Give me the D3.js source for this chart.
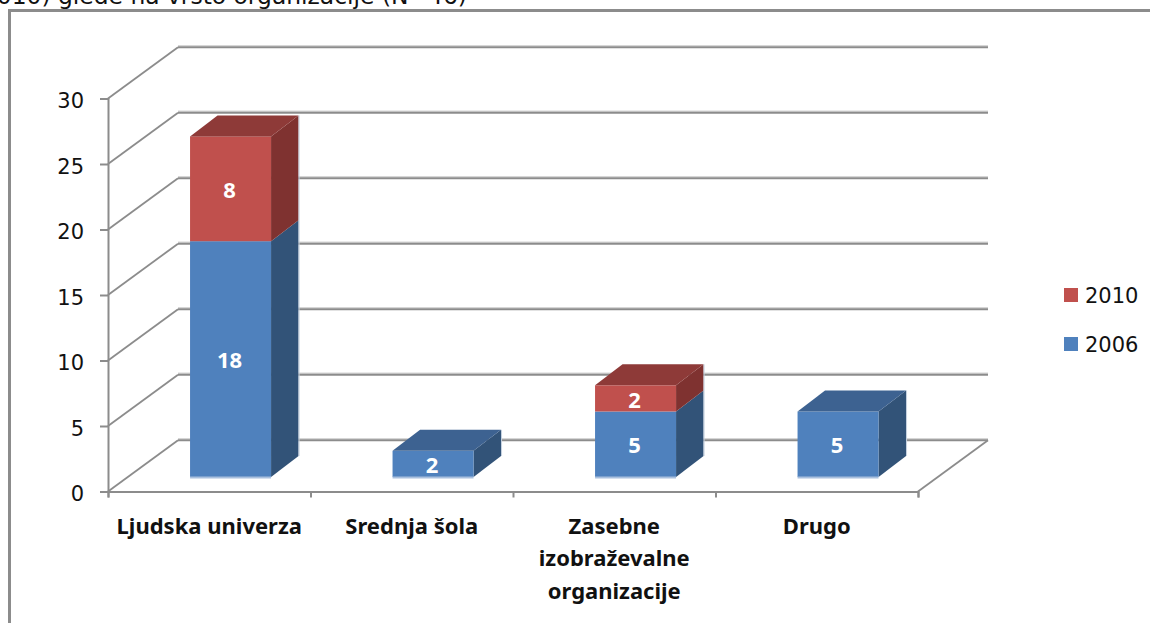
<!DOCTYPE html>
<html><head><meta charset="utf-8">
<script src="https://cdnjs.cloudflare.com/ajax/libs/d3/7.8.5/d3.min.js"></script>
<style>html,body{margin:0;padding:0;background:#fff;overflow:hidden}svg{display:block}</style>
</head><body><div id="c"></div>
<script>
const categories = ["Ljudska univerza","Srednja šola","Zasebne|izobraževalne|organizacije","Drugo"];
const series2006 = [18,2,5,5];
const series2010 = [8,0,2,0];
const seriesNames = ["2006","2010"];
const yTicks = [0,5,10,15,20,25,30];
const titleText = "2010) glede na vrsto organizacije (N=46)";

const W=1150,H=623;
const svg=d3.select("#c").append("svg").attr("width",W).attr("height",H);
const GRAY="#8c8c8c", FONT="'DejaVu Sans',sans-serif", BOLD="'Noto Sans',sans-serif";
const x=d3.scaleBand().domain(d3.range(categories.length)).range([108,918]).paddingInner(.6).paddingOuter(.3);
const y=d3.scaleLinear().domain([0,30]).range([491.5,98.5]);
const depthX=70, depthY=-51.3, barDX=21.3, barDY=-14.5, barDepthX=27.5, barDepthY=-21;

// title and frame
svg.append("text").attr("x",467).attr("y",4).attr("text-anchor","end").attr("font-family",FONT).attr("font-size",23.4).attr("fill","#111").text(titleText);
svg.append("path").attr("d",`M9.5,${H}V10.5H${W}`).attr("fill","none").attr("stroke",GRAY).attr("stroke-width",3);

// back wall gridlines + side diagonals
const grid=svg.append("g");
yTicks.forEach(t=>{
  const yy=y(t);
  grid.append("line").attr("x1",108+depthX).attr("x2",918+depthX).attr("y1",yy+depthY-1.5).attr("y2",yy+depthY-1.5).attr("stroke","#d6d6d6").attr("stroke-width",1.5);
  grid.append("line").attr("x1",108+depthX).attr("x2",918+depthX).attr("y1",yy+depthY).attr("y2",yy+depthY).attr("stroke",GRAY).attr("stroke-width",2);
  grid.append("line").attr("x1",108).attr("x2",108+depthX).attr("y1",yy).attr("y2",yy+depthY).attr("stroke",GRAY).attr("stroke-width",1.8);
});
grid.append("line").attr("x1",918).attr("x2",918+depthX).attr("y1",y(0)).attr("y2",y(0)+depthY).attr("stroke",GRAY).attr("stroke-width",1.8);

// axes
const gy=svg.append("g").attr("transform","translate(108,0)").call(d3.axisLeft(y).tickValues(yTicks).tickSize(8).tickPadding(16));
gy.selectAll("text").attr("font-family",FONT).attr("font-size",21).attr("fill","#111").attr("dy","0.43em");
const xEdge=d3.scaleLinear().domain([0,categories.length]).range([108,918]);
const gx=svg.append("g").attr("transform",`translate(0,${y(0)})`).call(d3.axisBottom(xEdge).ticks(categories.length).tickSize(6).tickFormat(""));
[gy,gx].forEach(g=>{g.selectAll("path").attr("stroke",GRAY).attr("stroke-width",2);g.selectAll("line").attr("stroke",GRAY).attr("stroke-width",2);});

// 3D stacked bars
const palette={ "2006":{front:"#4f81bd",side:"#325378",top:"#3d6291"}, "2010":{front:"#c0504d",side:"#7f3230",top:"#8e3a38"} };
const bars=svg.append("g");
categories.forEach((c,i)=>{
  const x0=x(i)+barDX, x1=x0+x.bandwidth();
  let acc=0;
  const totals=series2006[i]+series2010[i];
  [series2006[i],series2010[i]].forEach((v,s)=>{
    if(!v) return;
    const col=palette[seriesNames[s]];
    const yb=y(acc)+barDY, yt=y(acc+v)+barDY;
    bars.append("path").attr("d",`M${x1},${yb}L${x1+barDepthX},${yb+barDepthY}V${yt+barDepthY}L${x1},${yt}Z`).attr("fill",col.side);
    bars.append("rect").attr("x",x0).attr("y",yt).attr("width",x1-x0).attr("height",yb-yt).attr("fill",col.front);
    if(acc+v===totals){
      bars.append("path").attr("d",`M${x0},${yt}L${x0+barDepthX},${yt+barDepthY}H${x1+barDepthX}L${x1},${yt}Z`).attr("fill",col.top);
    }
    bars.append("text").attr("x",(x0+x1)/2-1).attr("y",(yb+yt)/2+1.5).attr("dy","0.35em").attr("text-anchor","middle")
      .attr("font-family",BOLD).attr("font-weight",700).attr("font-size",22).attr("fill","#fff").text(v);
    acc+=v;
  });
  // pale bottom edge and right edge highlights
  const yb0=y(0)+barDY;
  bars.append("line").attr("x1",x0).attr("x2",x1).attr("y1",yb0+.5).attr("y2",yb0+.5).attr("stroke","#a9c0de").attr("stroke-width",2);
  bars.append("line").attr("x1",x1+barDepthX+.5).attr("x2",x1+barDepthX+.5).attr("y1",y(totals)+barDY+barDepthY).attr("y2",yb0+barDepthY).attr("stroke","#c3cfde").attr("stroke-width",1);
});

// category labels
categories.forEach((c,i)=>{
  const cx=x(i)+x.bandwidth()/2;
  c.split("|").forEach((ln,k)=>{
    svg.append("text").attr("x",cx).attr("y",526+k*32.5).attr("dy","0.35em").attr("text-anchor","middle")
     .attr("font-family",BOLD).attr("font-weight",700).attr("font-size",22).attr("fill","#111").text(ln);
  });
});

// legend
const leg=[["2010",295],["2006",344]];
leg.forEach(([n,ly])=>{
  svg.append("rect").attr("x",1064).attr("y",ly-7).attr("width",14).attr("height",14).attr("fill",palette[n].front);
  svg.append("text").attr("x",1085).attr("y",ly).attr("dy","0.36em").attr("font-family",FONT).attr("font-size",21).attr("fill","#111").text(n);
});
</script></body></html>
